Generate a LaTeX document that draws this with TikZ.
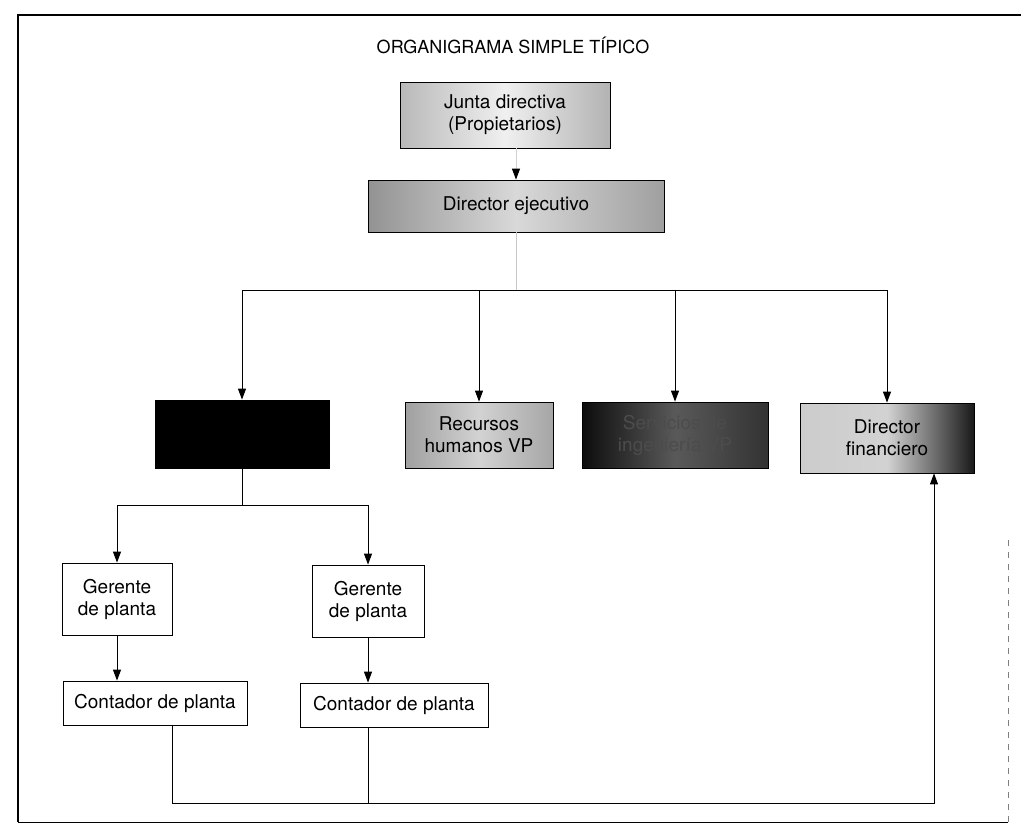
\documentclass[tikz,border=0pt]{standalone}
\usepackage{fontspec}
\setmainfont{TeX Gyre Heros}
\usetikzlibrary{arrows.meta, positioning, calc}

\tikzset{
  post/.style={draw, thin, minimum height=0, inner sep=2pt, align=center},
  plainbox/.style={post, fill=white},
  shadebox/.style={post, shading=axis, shading angle=90},
  link/.style={draw, line width=0.5pt},
  arr/.style={link, -{Triangle[length=5.5pt, width=4pt, black]}}
}

\begin{document}
\begin{tikzpicture}[x=0.5pt, y=-0.5pt, font=\fontsize{9.5}{11}\selectfont]
\useasboundingbox (0,0) rectangle (1021,830);
% frame and title
\draw[line width=0.6pt] (18,822) -- (18,15) -- (1021,15);
\draw[line width=0.4pt, dashed, gray] (1008,540) -- (1008,822);
\draw[line width=0.5pt] (18,822) -- (1008,822);
\node (title) at (513,45) {\fontsize{9}{10}\selectfont ORGANIGRAMA SIMPLE TÍPICO};

% top levels
\node[shadebox, minimum width=105pt, minimum height=33pt,
      left color=gray!55, right color=gray!60, middle color=gray!12] (junta) at (505,115)
      {Junta directiva\\(Propietarios)};
\node[shadebox, minimum width=148pt, minimum height=26pt,
      left color=gray!85, right color=gray!75, middle color=gray!30] (dir) at (516,206)
      {Director ejecutivo};

% vice presidents
\node[post, fill=black, minimum width=87pt, minimum height=34pt] (prod) at (242,434) {};
\node[shadebox, minimum width=74pt, minimum height=33pt,
      left color=gray!75, right color=gray!70, middle color=gray!35] (rh) at (479,435)
      {Recursos\\humanos VP};
\node[shadebox, minimum width=93pt, minimum height=33pt, text=gray!60!black,
      left color=black!95, right color=black!80, middle color=black!65] (serv) at (675,435)
      {Servicios de\\ingeniería VP};
\node[shadebox, minimum width=87pt, minimum height=35pt,
      left color=gray!40, right color=black!90, middle color=gray!35] (fin) at (887,438)
      {Director\\financiero};

% plants
\node[plainbox, minimum width=55pt, minimum height=36pt] (ger1) at (117,599) {Gerente\\de planta};
\node[plainbox, minimum width=56pt, minimum height=36pt] (ger2) at (368,601) {Gerente\\de planta};
\node[plainbox, minimum width=92pt, minimum height=22pt] (cont1) at (155,703) {Contador de planta};
\node[plainbox, minimum width=94pt, minimum height=22pt] (cont2) at (394,705) {Contador de planta};

% bus lines
\coordinate (bus) at (516,290);
\coordinate (bus2) at (242,505);
\coordinate (bus3) at (172,803);

\draw[arr, draw=gray!35] (junta.south -| dir.north) -- (dir.north);
\draw[link, draw=gray!45] (dir.south) -- (bus);
\draw[link] (bus -| prod.north) -- (bus -| fin.north);
\foreach \n in {prod, rh, serv, fin}
  \draw[arr] (bus -| \n.north) -- (\n.north);

\draw[link] (prod.south) -- (bus2);
\draw[link] (bus2 -| ger1.north) -- (bus2 -| ger2.north);
\draw[arr] (bus2 -| ger1.north) -- (ger1.north);
\draw[arr] (bus2 -| ger2.north) -- (ger2.north);

\draw[arr] (ger1.south) -- (ger1.south |- cont1.north);
\draw[arr] (ger2.south) -- (ger2.south |- cont2.north);

\draw[arr] (bus3 |- cont1.south) -- (bus3) -- (bus3 -| 934,0) -- (934,0 |- fin.south);
\draw[link] (cont2.south -| ger2.south) -- (ger2.south |- bus3);
\end{tikzpicture}
\end{document}
